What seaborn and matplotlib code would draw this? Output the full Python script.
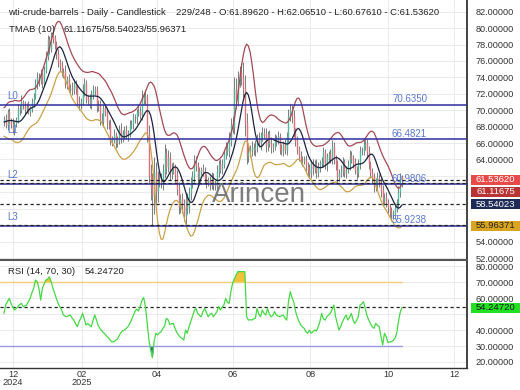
import numpy as np
import pandas as pd
import matplotlib
matplotlib.use("Agg")
import matplotlib.pyplot as plt
import seaborn as sns
from matplotlib.patches import Rectangle
from matplotlib.ticker import FuncFormatter

# ---------------- data ----------------
# closes before the first visible bar (only feed the TMA indicator)
pre_close = [69.5, 71.5, 72.0, 71.7, 72.4, 70.4, 68.0, 68.1, 68.4, 68.7,
             67.6, 68.2, 68.5, 68.3, 68.9, 69.2, 68.4, 68.6]

close = [
    68.9, 68.2, 69.8, 68.6, 68.3, 67.6, 68.4, 68.7, 70.2, 70.0, 71.0, 70.6, 70.1, 70.5, 69.8, 70.2, 71.0, 71.7, 73.1, 74.0,
    73.6, 74.3, 73.3, 74.9, 76.6, 78.6, 77.5, 79.1, 78.7, 77.9, 76.8, 75.8, 75.4, 74.6, 74.7, 73.2, 73.8, 72.6, 72.7, 72.5,
    73.2, 72.7, 71.0, 70.6, 71.0, 72.3, 73.3, 71.4, 71.3, 70.7, 71.9, 72.3, 72.5, 70.4, 70.7, 68.9, 68.6, 70.2, 69.8, 68.4,
    68.3, 66.3, 66.4, 67.0, 66.0, 66.3, 67.7, 66.6, 67.2, 67.6, 66.9, 67.2, 68.1, 68.3, 69.1, 69.0, 69.7, 69.9, 69.4, 71.5,
    71.2, 71.7, 67.0, 62.0, 60.7, 59.6, 62.4, 60.1, 61.5, 61.5, 61.3, 62.5, 64.7, 63.1, 64.3, 62.3, 62.8, 63.0, 62.1, 60.4,
    58.2, 59.2, 58.3, 57.1, 59.1, 58.1, 59.9, 61.0, 62.0, 63.7, 63.2, 61.6, 62.5, 62.7, 62.6, 61.6, 61.2, 61.5, 60.9, 61.8,
    60.9, 60.8, 62.5, 63.4, 62.9, 63.4, 64.6, 65.3, 65.0, 66.2, 68.2, 68.0, 72.5, 71.3, 73.8, 74.6, 74.0, 72.8, 68.5, 64.4,
    64.9, 65.2, 65.5, 65.1, 65.5, 66.5, 66.0, 66.9, 67.2, 67.0, 65.6, 67.0, 66.0, 65.5, 65.6, 66.5, 66.3, 66.8, 65.3, 65.0,
    65.8, 65.2, 66.7, 69.2, 70.0, 69.3, 67.3, 66.3, 65.2, 64.4, 63.9, 63.9, 64.0, 63.2, 62.7, 62.3, 63.5, 62.8, 63.4, 62.4,
    63.2, 63.5, 63.7, 64.8, 63.3, 64.2, 64.6, 64.0, 65.6, 64.0, 63.5, 61.9, 62.3, 62.6, 63.7, 62.4, 62.7, 63.3, 64.5, 64.1,
    63.6, 62.7, 62.3, 63.4, 65.0, 65.0, 65.7, 66.0, 64.9, 63.4, 62.4, 61.9, 60.6, 61.0, 61.7, 61.2, 60.2, 59.0, 59.4, 58.7,
    58.2, 57.6, 57.3, 57.4, 58.0, 58.6, 60.0, 61.8962, 61.5362,
]

wick_up = [
    .4, .6, .3, .5, .4, .7, .3, .5, .6, .4, .8, .3, .5, .4, .6, .3, .5, .4, .7, .6,
    .5, .7, .4, .5, .6, .5, .4, .4, .5, .4, .5, .6, .4, .6, .5, .8, .4, .6, .5, .7,
    .6, .5, .4, .7, .5, .9, .6, .4, .5, .7, .6, .8, .5, .4, .6, .5, .7, .4, .6, .5,
    .4, .6, .5, .7, .4, .6, .5, .8, .4, .5, .6, .4, .7, .5, .6, .4, .5, .7, .6, .9,
    .6, .8, .3, 1.2, 1.4, 1.6, 1.9, 1.3, 1.1, 1.0, .8, .9, 1.2, .7, .9, .6, .8, .7, .5, .6,
    .8, .6, .7, .9, .6, .8, .7, .9, .6, .8, .7, .5, .6, .4, .7, .5, .6, .4, .5, .7,
    .5, .6, .8, .5, .7, .6, .5, .8, .6, 1.2, .9, 1.1, 1.6, 1.4, 1.0, .8, 1.2, 1.9, 1.5, 1.1,
    .8, .6, .7, .5, .9, .6, .8, .5, .7, .6, .8, .5, .6, .7, .4, .6, .5, .7, .4, .6,
    .5, .7, .6, 1.0, .8, .6, .7, .5, .6, .4, .6, .5, .4, .6, .5, .7, .4, .6, .5, .7,
    .5, .4, .6, .7, .5, .6, .4, .7, .8, .5, .6, .4, .5, .7, .6, .4, .5, .6, .7, .5,
    .4, .6, .5, .7, .6, .5, .8, .6, .5, .7, .4, .6, .5, .7, .8, .5, .6, .7, .5, .6,
    .5, .4, .6, .5, .7, .6, .8, .5, .1689,
]

wick_dn = [
    .5, .4, .6, .3, .5, .4, .6, .5, .3, .6, .4, .5, .6, .4, .3, .5, .4, .6, .3, .5,
    .6, .4, .6, .4, .4, .5, .6, .4, .5, .5, .6, .5, .6, .4, .7, .5, .6, .4, .5, .6,
    .5, .7, .4, .6, .5, .4, .6, .5, .7, .4, .6, .5, .4, .6, .5, .7, .4, .6, .5, .7,
    .6, .5, .7, .4, .6, .5, .4, .6, .5, .7, .4, .6, .5, .4, .6, .5, .7, .4, .5, .6,
    .5, .6, .9, 1.0, 1.6, 3.7, 2.2, 1.5, 1.3, .9, .8, 1.0, .7, .9, .6, .8, .7, .6, .8, .7,
    .9, .7, .8, .6, .9, .7, .6, .8, .5, .7, .6, .5, .7, .4, .6, .5, .7, .4, .6, .5,
    .6, .5, .4, .6, .5, .7, .4, .6, .5, .7, .6, .8, .9, 1.1, .8, 1.0, .9, 1.2, 1.6, 1.0,
    .7, .6, .8, .5, .7, .6, .5, .8, .6, .5, .7, .6, .5, .7, .6, .5, .7, .4, .6, .5,
    .6, .5, .7, .6, .5, .8, .6, .7, .5, .6, .5, .7, .4, .6, .8, .6, .5, .7, .4, .6,
    .5, .7, .4, .6, .5, .7, .6, .4, .5, .6, .8, .6, .5, .4, .6, .5, .7, .4, .6, .5,
    .6, .5, .7, .4, .6, .5, .4, .6, .7, .5, .6, .8, .6, .5, .7, .6, .8, .7, .6, .5,
    .7, .6, .8, .5, .6, .4, .5, .6, .8601,
]

rsi = [
    50.5, 56.0, 58.0, 59.9, 56.8, 54.5, 52.6, 53.5, 54.7, 56.0, 56.8, 54.7, 55.2, 55.7, 58.0, 59.9, 63.5, 66.2, 71.4, 70.4,
    66.2, 58.9, 66.2, 69.0, 71.4, 72.0, 73.5, 70.4, 66.5, 63.1, 60.0, 56.8, 54.5, 52.6, 49.5, 48.8, 48.4, 49.0, 49.5, 47.5,
    46.3, 44.0, 42.1, 45.3, 47.5, 50.5, 47.0, 43.2, 44.2, 43.0, 42.1, 46.0, 49.5, 46.3, 42.8, 41.0, 39.5, 38.5, 37.2, 36.0,
    35.0, 33.5, 32.5, 32.8, 33.5, 34.5, 36.5, 38.5, 39.5, 40.0, 41.0, 42.1, 44.0, 46.3, 49.0, 51.6, 53.2, 52.0, 54.7, 58.5,
    60.5, 55.0, 45.0, 34.0, 27.5, 22.7, 33.0, 38.0, 37.0, 38.2, 39.0, 41.0, 42.5, 47.4, 46.5, 43.5, 44.0, 44.2, 41.1, 38.5,
    36.9, 35.5, 34.8, 33.8, 40.0, 38.0, 42.0, 45.3, 48.4, 52.0, 53.6, 50.5, 49.2, 48.4, 51.6, 53.6, 51.0, 48.4, 50.0, 50.5,
    48.4, 50.0, 51.6, 54.7, 52.6, 54.5, 55.7, 59.9, 57.5, 56.8, 64.1, 69.4, 72.0, 74.6, 76.7, 76.7, 76.7, 76.7, 76.7, 48.4,
    46.3, 46.5, 46.3, 47.0, 47.4, 53.6, 50.0, 48.4, 52.6, 50.5, 49.5, 53.6, 50.0, 48.4, 49.0, 51.6, 49.5, 48.8, 48.4, 49.0,
    49.5, 47.5, 46.3, 57.8, 64.1, 60.5, 57.8, 52.0, 48.4, 45.5, 43.2, 42.0, 41.1, 39.0, 38.0, 40.0, 38.0, 39.0, 40.0, 39.4,
    42.0, 45.3, 50.5, 47.0, 46.3, 48.4, 49.5, 50.5, 53.0, 55.7, 48.4, 44.0, 40.0, 42.5, 45.3, 47.5, 49.5, 46.3, 48.0, 50.5,
    46.3, 44.2, 46.0, 48.4, 55.7, 56.5, 57.8, 53.6, 49.0, 46.3, 44.0, 42.1, 41.1, 44.2, 43.0, 42.1, 36.0, 30.6, 38.0, 35.9,
    32.3, 32.5, 32.7, 33.5, 34.8, 38.0, 45.3, 51.0, 54.2472,
]

level_names = ["L0", "L1", "L2", "L3"]
level_values = [70.6350, 66.4821, 60.9806, 55.9238]
last_open, last_high, last_low, last_close = 61.89620, 62.06510, 60.67610, 61.53620
tmab_last = [61.11675, 58.54023, 55.96371]
rsi_last = 54.24720
bar_index, bar_total = 229, 248
month_ticks = [5.2, 44.5, 87.7, 131.2, 175.6, 220.2, 257.9]
month_labels = ["12\n2024", "02\n2025", "04", "06", "08", "10", "12"]
price_ticks = list(range(52, 84, 2))
price_hidden = [56, 58, 60, 62]      # covered by the value boxes
rsi_ticks = [20, 30, 40, 50, 60, 70, 80]
rsi_hidden = [50]

assert len(close) == len(wick_up) == len(wick_dn) == len(rsi) == 229

# ---------------- derived series ----------------
n = len(close)
idx = np.arange(n)
c = np.array(close)
o = np.array([pre_close[-1]] + close[:-1])
h = np.maximum(o, c) + np.array(wick_up)
lo = np.minimum(o, c) - np.array(wick_dn)
r = np.array(rsi)

full = pd.Series(pre_close + close)
mid = full.rolling(5).mean().rolling(6).mean().to_numpy()[len(pre_close):]
rng = pd.Series(h - lo).rolling(5, min_periods=1).mean().rolling(6, min_periods=1).mean().to_numpy()
k = (tmab_last[0] - tmab_last[1]) / rng[-1]
upper = mid + k * rng
lower = mid - k * rng

# ---------------- figure ----------------
sns.set_theme(style="white")
plt.rcParams["font.family"] = ["Liberation Sans", "DejaVu Sans"]

W, H = 520.0, 390.0
def fx(x): return x / W
def fy(y): return 1 - y / H

fig = plt.figure(figsize=(5.2, 3.9), dpi=100)
fig.patch.set_facecolor("white")
ax = fig.add_axes([0, fy(259), fx(467), 259 / H])
ax2 = fig.add_axes([0, fy(368), fx(467), (368 - 260) / H])

def make_fmt(hidden):
    return FuncFormatter(lambda v, p: "" if round(v) in hidden else f"{v:.5f}")

xmin, xmax = -2.3, 265.3
for a in (ax, ax2):
    a.set_xlim(xmin, xmax)
    a.set_facecolor("white")
    a.set_xticks(month_ticks)
    a.grid(True, color="#e8e8e8", lw=0.6)
    a.set_axisbelow(True)
    a.yaxis.tick_right()
    a.tick_params(axis="y", length=0, pad=6, labelsize=6.6, labelcolor="#333333")
    a.spines["left"].set_visible(False)
    a.spines["right"].set_color("#222222")
    a.spines["right"].set_linewidth(1.2)

ax.set_ylim(51.88, 83.42)
ax.set_yticks(price_ticks)
ax.yaxis.set_major_formatter(make_fmt(price_hidden))
ax.spines["top"].set_visible(False)
ax.spines["bottom"].set_visible(False)
ax.tick_params(axis="x", length=0, labelbottom=False)

ax2.set_ylim(16.2, 84.0)
ax2.set_yticks(rsi_ticks)
ax2.yaxis.set_major_formatter(make_fmt(rsi_hidden))
ax2.spines["top"].set_color("#555555")
ax2.spines["top"].set_linewidth(1.5)
ax2.spines["bottom"].set_color("#333333")
ax2.spines["bottom"].set_linewidth(1.0)
ax2.set_xticklabels(month_labels, fontsize=6.6, color="#333333", linespacing=0.85)
ax2.tick_params(axis="x", length=0, pad=1.5)

# candles
up = c >= o
body_col = np.where(up, "#4fb99f", "#e0707a")
ax.vlines(idx, lo, h, color="#4a4a4a", lw=0.5, zorder=3)
ax.vlines(idx, np.minimum(o, c), np.maximum(o, c) + 0.05, colors=body_col, lw=1.0, zorder=4)

# TMA bands
sns.lineplot(x=idx, y=upper, ax=ax, color="#a24a55", linewidth=0.9, zorder=5)
sns.lineplot(x=idx, y=mid, ax=ax, color="#1c2340", linewidth=0.9, zorder=5)
sns.lineplot(x=idx, y=lower, ax=ax, color="#c9a24a", linewidth=0.9, zorder=5)

dash = (0, (2.6, 2.2))
for name, v in zip(level_names, level_values):
    ax.axhline(v, color="#2d2d9f", lw=1.1, zorder=6)
    ax.annotate(name, xy=(0, v), xycoords=("axes fraction", "data"),
                xytext=(7 * 0.72, 9 * 0.72), textcoords="offset points",
                ha="left", va="center", fontsize=7, color="#5a78d0", zorder=8)
    ax.annotate(f"{v:.4f}", xy=(409.5 / 467, v), xycoords=("axes fraction", "data"),
                xytext=(0, 5.5 * 0.72), textcoords="offset points",
                ha="center", va="center", fontsize=7, color="#5a78d0", zorder=8)
for v in [last_close] + tmab_last:
    ax.axhline(v, color="#222222", lw=0.9, ls=dash, zorder=6)
ax.set_xlabel("")
ax.set_ylabel("")

# RSI
ax2.fill_between(idx, r, 70, where=r >= 70, interpolate=True, color="#f2c23a", lw=0, zorder=2)
ax2.fill_between(idx, r, 30, where=r <= 30, interpolate=True, color="#3b5b9c", lw=0, zorder=2)
ax2.plot([xmin, n - 1], [70, 70], color="#f0cf7a", lw=1.0, zorder=3)
ax2.plot([xmin, n - 1], [30, 30], color="#9a9ae0", lw=1.0, zorder=3)
ax2.axhline(rsi_last, color="#222222", lw=0.9, ls=dash, zorder=4)
sns.lineplot(x=idx, y=r, ax=ax2, color="#45d845", linewidth=0.9, zorder=5)
ax2.set_xlabel("")
ax2.set_ylabel("")

# header texts
tc = "#222222"
fig.text(fx(8), fy(12.3), "wti-crude-barrels - Daily - Candlestick", fontsize=6.8, va="center", color=tc)
fig.text(fx(175.7), fy(12.3),
         f"{bar_index}/{bar_total} - O:{last_open:.5f} - H:{last_high:.5f} - L:{last_low:.5f} - C:{last_close:.5f}",
         fontsize=6.8, va="center", color=tc)
fig.text(fx(9), fy(29.3), "TMAB (10)", fontsize=6.8, va="center", color=tc)
fig.text(fx(63), fy(29.3), "/".join(f"{v:.5f}" for v in tmab_last), fontsize=6.8, va="center", color=tc)
fig.text(fx(8), fy(272), "RSI (14, 70, 30)", fontsize=6.8, va="center", color=tc)
fig.text(fx(85), fy(272), f"{rsi_last:.5f}", fontsize=6.8, va="center", color=tc)

# watermark
fig.text(fx(259), fy(201.5), "Arincen", ha="center", va="baseline", fontsize=20, color="#6f6f6f", alpha=0.9)

# right-hand value boxes
box_specs = [
    (179.6, f"{last_close:.5f}", "#e84a4a", "white"),
    (192.0, f"{tmab_last[0]:.5f}", "#b83434", "white"),
    (204.3, f"{tmab_last[1]:.5f}", "#1f2b57", "white"),
    (225.5, f"{tmab_last[2]:.5f}", "#d9a520", "#222222"),
    (308.0, f"{rsi_last:.5f}", "#22e022", "#1a1a1a"),
]
for yc, txt, fc, tcol in box_specs:
    fig.add_artist(Rectangle((fx(471), fy(yc + 5)), fx(49), 10 / H, transform=fig.transFigure,
                             facecolor=fc, edgecolor="none", zorder=5))
    fig.text(fx(495.5), fy(yc), txt, ha="center", va="center", fontsize=6.8, color=tcol, zorder=6)

fig.savefig("out.png", dpi=100)
